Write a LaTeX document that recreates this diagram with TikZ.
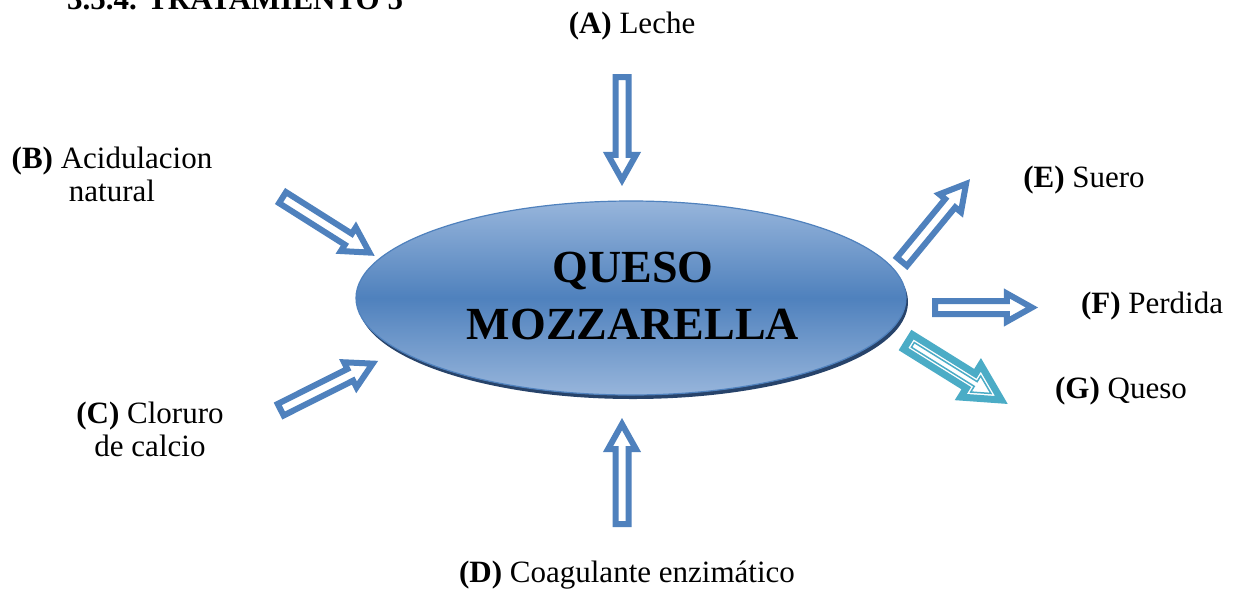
\documentclass[tikz,border=0pt]{standalone}
\usepackage{fontspec}
\setmainfont{Liberation Serif}
\definecolor{arrowblue}{HTML}{4F81BD}
\definecolor{arrowteal}{HTML}{4BACC6}
\definecolor{ellight}{HTML}{97B5DB}
\definecolor{elmid}{HTML}{4F81BD}
\definecolor{elshadow}{HTML}{27436A}
\tikzset{
  hollow/.style={draw=arrowblue,fill=white,line width=6pt,line join=miter},
  hollowteal/.style={draw=arrowteal,fill=white,line width=7pt,line join=miter},
  lbl/.style={anchor=base,inner sep=0pt,font=\fontsize{31}{33}\selectfont,align=center},
  titlefont/.style={font=\fontsize{46}{57}\selectfont\bfseries,align=center,inner sep=0pt}
}
\newcommand\harrow[3]{%
  \begin{scope}[shift={(#1)},rotate=#2]
    \pgfmathsetmacro\tipx{#3-6.15}
    \pgfmathsetmacro\basex{\tipx-25}
    \draw[hollow] (3,6.5) -- (\basex,6.5) -- (\basex,14) -- (\tipx,0)
      -- (\basex,-14) -- (\basex,-6.5) -- (3,-6.5) -- cycle;
  \end{scope}}
\begin{document}
\begin{tikzpicture}[x=1pt,y=-1pt]
\useasboundingbox (0,0) rectangle (1238,590);
\fill[white] (0,0) rectangle (1238,590);

% heading (cut off at the top, as in the reference)
\node[anchor=base west,inner sep=0pt,font=\fontsize{31}{33}\selectfont\bfseries] (head) at (67,9.5) {3.5.4. TRATAMIENTO 5};

% central ellipse
\fill[elshadow] (633,302) ellipse [x radius=275,y radius=97];
\shade[top color=ellight,bottom color=ellight,middle color=elmid,draw=elmid,line width=1.2pt]
  (631,298) ellipse [x radius=275,y radius=97];
\node[titlefont] (main) at (633,296) {QUESO\\MOZZARELLA};

% labels
\node[lbl] (A) at (632,33) {\textbf{(A)} Leche};
\node[lbl] (B) at (112,201) {\textbf{(B)} Acidulacion\\natural};
\node[lbl] (C) at (150,456) {\textbf{(C)} Cloruro\\de calcio};
\node[lbl] (D) at (627,582) {\textbf{(D)} Coagulante enzimático};
\node[lbl] (E) at (1084,187) {\textbf{(E)} Suero};
\node[lbl] (F) at (1152,313) {\textbf{(F)} Perdida};
\node[lbl] (G) at (1121,398) {\textbf{(G)} Queso};

% arrow tails
\coordinate (tA) at (622,74);
\coordinate (tD) at (622,527);
\coordinate (tB) at (280,196);
\coordinate (tC) at (278,411);
\coordinate (tE) at (900,264);
\coordinate (tF) at (932,307.5);
\coordinate (tG) at (905,340);

\harrow{tA}{-90}{112}
\harrow{tD}{90}{109}
\harrow{tB}{-32.3}{112}
\harrow{tC}{26.6}{112}
\harrow{tE}{50.5}{110}
\harrow{tF}{0}{106}

% teal arrow G with inner thin line
\begin{scope}[shift={(tG)},rotate=-31.9]
  \draw[hollowteal] (3.5,8.5) -- (77.5,8.5) -- (77.5,19) -- (113.5,0)
    -- (77.5,-19) -- (77.5,-8.5) -- (3.5,-8.5) -- cycle;
  \draw[draw=arrowteal,line width=1.5pt,line join=miter] (9.25,2.75) -- (83.25,2.75) -- (83.25,9.46) -- (101.2,0)
    -- (83.25,-9.46) -- (83.25,-2.75) -- (9.25,-2.75) -- cycle;
\end{scope}
\end{tikzpicture}
\end{document}
